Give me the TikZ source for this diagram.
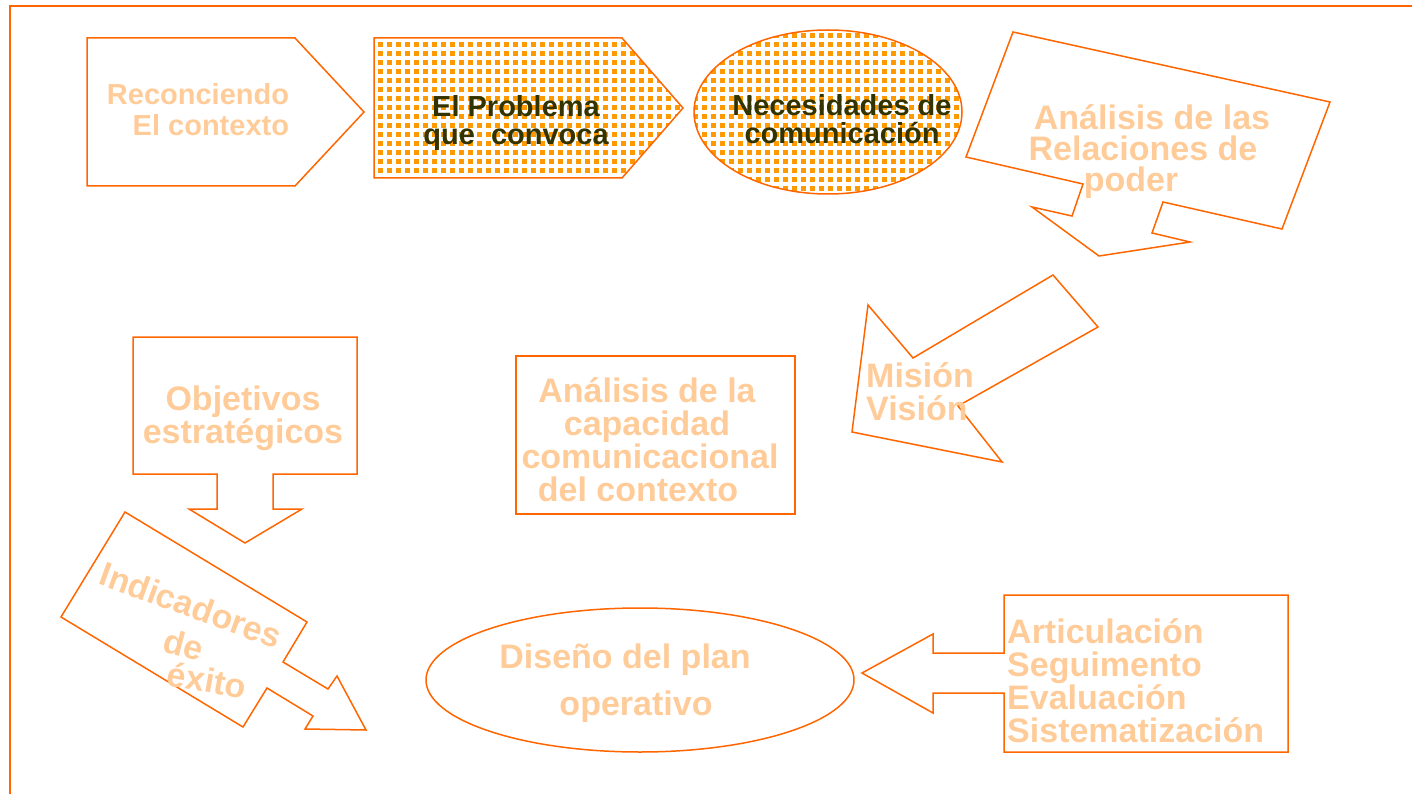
\documentclass[tikz,border=0pt]{standalone}
\usepackage{fontspec}
\setmainfont{Liberation Sans}
\usetikzlibrary{patterns}

\definecolor{linea}{HTML}{FF6600}
\definecolor{texto}{HTML}{FFCC99}
\definecolor{puntos}{HTML}{FF9900}
\definecolor{oscuro}{HTML}{333300}

\pgfdeclarepatternformonly{cuadritos}{\pgfpoint{-1pt}{-1pt}}{\pgfpoint{10pt}{10pt}}{\pgfpoint{9pt}{9pt}}{%
  \pgfpathrectangle{\pgfpointorigin}{\pgfpoint{4.5pt}{4.5pt}}\pgfusepath{fill}}

\begin{document}
\begin{tikzpicture}[
    x=1pt, y=-1pt,
    forma/.style={draw=linea, line width=1.5pt, line join=miter},
    punteada/.style={forma, pattern=cuadritos, pattern color=puntos},
    lbl/.style={font=\fontsize{34}{33}\selectfont\bfseries, text=texto, align=center, inner sep=0pt},
    lblchico/.style={lbl, font=\fontsize{29}{31}\selectfont\bfseries},
    lbloscuro/.style={lblchico, text=oscuro, font=\fontsize{29}{28}\selectfont\bfseries}
]
\useasboundingbox (0,0) rectangle (1412,794);

% Outer frame
\draw[linea, line width=2.5pt] (10,794) -- (10,6) -- (1412,6);

% Top row
\draw[forma] (87,38) -- (295,38) -- (364,112) -- (295,186) -- (87,186) -- cycle;
\draw[punteada] (374,38) -- (622,38) -- (683,108) -- (622,178) -- (374,178) -- cycle;
\draw[punteada] (828,112) ellipse [x radius=134, y radius=82];

% Callout with arrow down
\draw[forma] (1013,32) -- (1330,102) -- (1282,229) -- (1163,202) -- (1152,233)
    -- (1190,242) -- (1099,256) -- (1032,207) -- (1072,216) -- (1083,184)
    -- (966,157) -- cycle;

% Arrow to the left
\draw[forma] (1053,275) -- (1098,327) -- (958,406) -- (1002,462) -- (852,432)
    -- (868,305) -- (913,358) -- cycle;

% Box with arrow down
\draw[forma] (133,337) -- (357,337) -- (357,474) -- (273,474) -- (273,509)
    -- (302,509) -- (245,543) -- (189,509) -- (217,509) -- (217,474)
    -- (133,474) -- cycle;

\draw[forma] (516,356) rectangle (795,514);

% Tilted callout
\draw[forma] (125,512) -- (307,622) -- (283,662) -- (328,689) -- (337,676)
    -- (366,730) -- (305,729) -- (313,716) -- (267,688) -- (243,727)
    -- (61,617) -- cycle;

\draw[forma] (640,680) ellipse [x radius=214, y radius=72];

% Box with arrow left
\draw[forma] (1004,595) -- (1288,595) -- (1288,752) -- (1004,752) -- (1004,693)
    -- (933,693) -- (933,713) -- (862,673) -- (933,634) -- (933,653)
    -- (1004,653) -- cycle;

% Labels
\node[lblchico, align=right] (reconociendo) at (198,110) {Reconciendo\\El contexto};
\node[lbloscuro] (problema) at (516,123) {El Problema\\que\ \ convoca};
\node[lbloscuro] (necesidades) at (842,119) {Necesidades de\\comunicación};
\node[lbl, font=\fontsize{34}{31}\selectfont\bfseries] (relaciones) at (1143,152)
    {\hspace*{18pt}Análisis de las\\Relaciones de\hspace*{14pt}\\poder\hspace*{24pt}};
\node[lbl, align=left, anchor=west] (mision) at (866,392) {Misión\\Visión};
\node[lbl] (objetivos) at (243,418) {Objetivos\\estratégicos};
\node[lbl] (capacidad) at (647,440)
    {Análisis de la\\capacidad\\\hspace*{6pt}comunicacional\\del contexto\hspace*{18pt}};
\node[lbl, rotate=-20] (indicadores) at (191,605) {Indicadores};
\node[lbl, rotate=-15] (de) at (184,645) {de};
\node[lbl, rotate=-10] (exito) at (207,680) {éxito};
\node[lbl, font=\fontsize{34}{47}\selectfont\bfseries] (diseno) at (625,683)
    {Diseño del plan\\\hspace*{22pt}operativo};
\node[lbl, align=left, anchor=west] (articulacion) at (1007,681) {Articulación\\Seguimento\\Evaluación\\Sistematización};

\end{tikzpicture}
\end{document}
